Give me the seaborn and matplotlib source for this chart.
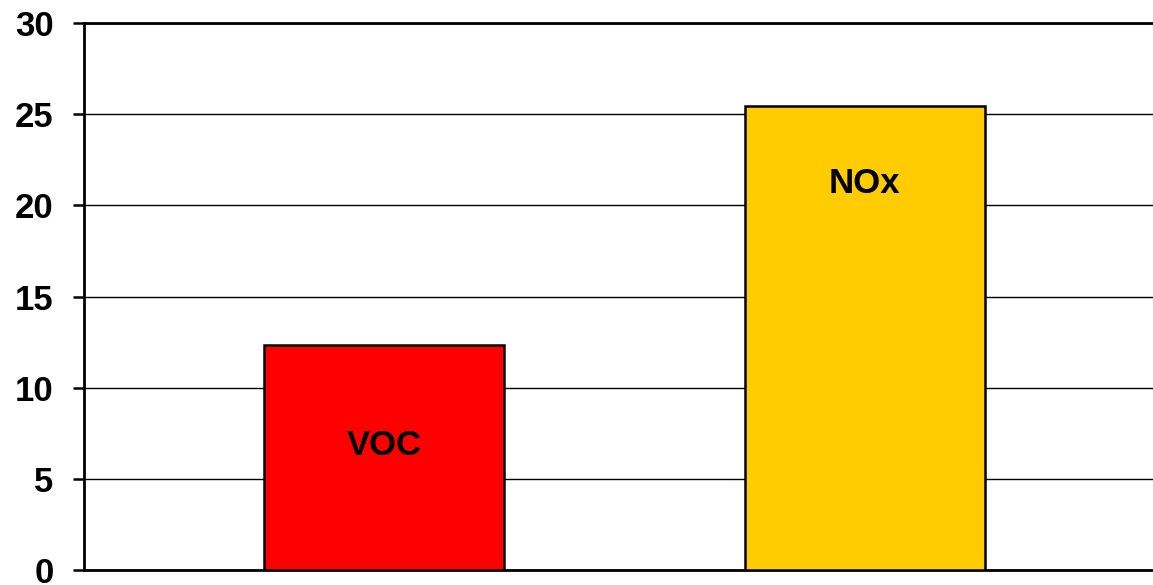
import matplotlib
matplotlib.use("Agg")
import matplotlib.pyplot as plt
import pandas as pd
import seaborn as sns

# data
pollutants = ["VOC", "NOx"]
values = [12.35, 25.45]
bar_colors = ["#FF0000", "#FFCC00"]
label_y = [6.85, 21.2]
y_ticks = [0, 5, 10, 15, 20, 25, 30]

df = pd.DataFrame({"pollutant": pollutants, "value": values})

sns.set_style("white")
plt.rcParams["font.family"] = ["Liberation Sans", "DejaVu Sans"]

fig = plt.figure(figsize=(11.53, 5.85), dpi=100)
ax = fig.add_axes([84 / 1153, 15 / 585, (1153 - 84) / 1153, (570 - 23) / 585])

sns.barplot(data=df, x="pollutant", y="value", hue="pollutant",
            palette=bar_colors, saturation=1, width=0.5, edgecolor="black",
            linewidth=1.8, legend=False, ax=ax, zorder=3)

# category names inside the bars
for i, name in enumerate(pollutants):
    ax.text(i, label_y[i], name, ha="center", va="center",
            fontsize=25, fontweight="bold", color="black", zorder=4)

ax.set_ylim(0, 30)
ax.set_xlim(-0.625, 1.6)
ax.set_yticks(y_ticks)
ax.set_yticklabels([str(t) for t in y_ticks], fontsize=25, fontweight="bold",
                   color="black")
ax.set_xticks([])
ax.set_xlabel("")
ax.set_ylabel("")

ax.yaxis.grid(True, color="black", linewidth=1.0, zorder=0)
ax.set_axisbelow(True)
ax.tick_params(axis="y", length=8, width=1.8, color="black", pad=14, left=True)

for side in ["top", "right"]:
    ax.spines[side].set_visible(False)
ax.spines["left"].set_color("black")
ax.spines["left"].set_linewidth(2)
ax.spines["bottom"].set_color("black")
ax.spines["bottom"].set_linewidth(2)
ax.axhline(30, color="black", linewidth=2, clip_on=False, zorder=1)

fig.savefig("out.png", dpi=100)
